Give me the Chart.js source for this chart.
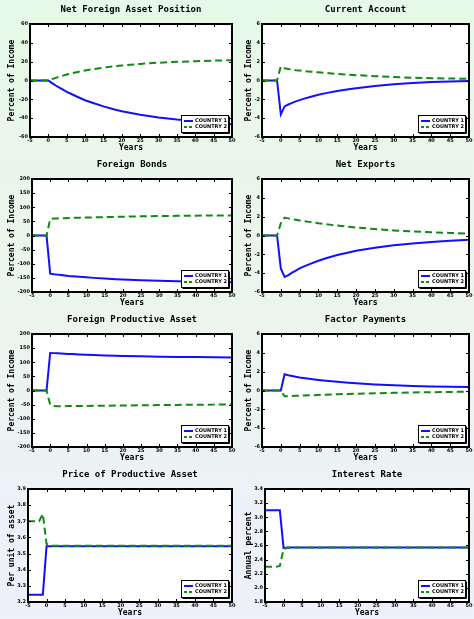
<!DOCTYPE html>
<html>

<head>
    <meta charset="UTF-8">
    <title>Transition paths</title>
    <style>
        html, body {
            margin: 0;
            padding: 0;
        }

        body {
            width: 474px;
            height: 619px;
            overflow: hidden;
            background: linear-gradient(to bottom, #e6f9e6 0%, #ebf5ee 50%, #eef0fb 100%);
            position: relative;
        }

        .panel {
            position: absolute;
            width: 237px;
            height: 155px;
        }
    </style>
</head>

<body>
    <canvas id="c0" class="panel" width="237" height="155" style="left:0;top:0"></canvas>
    <canvas id="c1" class="panel" width="237" height="155" style="left:237px;top:0"></canvas>
    <canvas id="c2" class="panel" width="237" height="155" style="left:0;top:155px"></canvas>
    <canvas id="c3" class="panel" width="237" height="155" style="left:237px;top:155px"></canvas>
    <canvas id="c4" class="panel" width="237" height="155" style="left:0;top:310px"></canvas>
    <canvas id="c5" class="panel" width="237" height="155" style="left:237px;top:310px"></canvas>
    <canvas id="c6" class="panel" width="237" height="155" style="left:0;top:465px"></canvas>
    <canvas id="c7" class="panel" width="237" height="155" style="left:237px;top:465px"></canvas>

    <script src="https://cdn.jsdelivr.net/npm/chart.js"></script>
    <script>
        // years after the shock (shared by every panel)
        const years = [-5, -4, -3, -2, -1, 0, 1, 2, 3, 4, 5, 6, 8, 10, 12, 15, 18, 20, 25, 30, 35, 40, 45, 50];

        const seriesLabels = ["COUNTRY 1", "COUNTRY 2"];

        // Net foreign asset position, percent of income
        const nfaCountry1 = [0, 0, 0, 0, 0, 0, -2.8, -5.3, -7.6, -9.8, -12, -13.8, -17.5, -21, -23.7, -27.5, -30.8, -32.7, -36.3, -39.3, -41.5, -43.2, -44.8, -46.5];
        const nfaCountry2 = [0, 0, 0, 0, 0, 0, 1.5, 2.8, 4, 5.2, 6.3, 7.3, 9.1, 10.6, 12, 13.7, 15.1, 15.9, 17.6, 18.9, 19.8, 20.5, 21.1, 21.5];

        // Current account
        const caCountry1 = [0, 0, 0, 0, 0, -3.6, -2.75, -2.55, -2.38, -2.22, -2.08, -1.95, -1.72, -1.52, -1.34, -1.12, -0.93, -0.82, -0.58, -0.4, -0.27, -0.17, -0.1, -0.05];
        const caCountry2 = [0, 0, 0, 0, 0, 1.5, 1.3, 1.22, 1.16, 1.1, 1.05, 1.0, 0.93, 0.87, 0.8, 0.7, 0.62, 0.57, 0.46, 0.37, 0.3, 0.25, 0.21, 0.18];

        // Foreign bonds
        const bondsCountry1 = [0, 0, 0, 0, 0, -135, -137, -138.5, -140, -141.5, -143, -144, -146, -148, -150, -152.5, -154.5, -156, -158.5, -160.5, -162, -163.5, -164.5, -165.5];
        const bondsCountry2 = [0, 0, 0, 0, 0, 58, 60, 60.5, 61, 61.5, 62, 62.3, 63, 63.7, 64.3, 65.2, 66, 66.5, 67.8, 68.8, 69.6, 70.2, 70.7, 71];

        // Net exports
        const nxCountry1 = [0, 0, 0, 0, 0, -3.5, -4.4, -4.2, -3.95, -3.72, -3.5, -3.3, -2.98, -2.68, -2.42, -2.08, -1.8, -1.63, -1.3, -1.04, -0.85, -0.7, -0.57, -0.46];
        const nxCountry2 = [0, 0, 0, 0, 0, 1.3, 1.9, 1.82, 1.74, 1.67, 1.6, 1.53, 1.42, 1.3, 1.2, 1.05, 0.93, 0.85, 0.68, 0.54, 0.43, 0.34, 0.27, 0.2];

        // Foreign productive asset
        const fpaCountry1 = [0, 0, 0, 0, 0, 133, 132.3, 131.6, 131, 130.3, 129.6, 129, 127.8, 126.6, 125.6, 124.3, 123.2, 122.5, 121, 119.8, 118.9, 118.2, 117.6, 117];
        const fpaCountry2 = [0, 0, 0, 0, 0, -50, -55, -55.5, -55.5, -55.4, -55.3, -55.2, -54.9, -54.5, -54.2, -53.8, -53.3, -53, -52.3, -51.6, -51, -50.5, -50, -49.5];

        // Factor payments
        const fpCountry1 = [0, 0, 0, 0, 0, 0, 1.72, 1.62, 1.54, 1.46, 1.39, 1.33, 1.22, 1.12, 1.03, 0.92, 0.82, 0.76, 0.64, 0.55, 0.48, 0.43, 0.39, 0.36];
        const fpCountry2 = [0, 0, 0, 0, 0, 0, -0.62, -0.6, -0.59, -0.57, -0.55, -0.54, -0.51, -0.47, -0.44, -0.4, -0.36, -0.34, -0.29, -0.25, -0.21, -0.18, -0.15, -0.13];

        // Price of productive asset, per unit
        const priceCountry1 = [3.245, 3.245, 3.245, 3.245, 3.245, 3.545, 3.545, 3.545, 3.545, 3.545, 3.545, 3.545, 3.545, 3.545, 3.545, 3.545, 3.545, 3.545, 3.545, 3.545, 3.545, 3.545, 3.545, 3.545];
        const priceCountry2 = [3.7, 3.7, 3.7, 3.7, 3.745, 3.56, 3.55, 3.548, 3.548, 3.548, 3.548, 3.548, 3.548, 3.548, 3.548, 3.548, 3.548, 3.548, 3.548, 3.548, 3.548, 3.548, 3.548, 3.548];

        // Interest rate, annual percent
        const rateCountry1 = [3.1, 3.1, 3.1, 3.1, 3.1, 2.565, 2.57, 2.57, 2.57, 2.57, 2.57, 2.57, 2.57, 2.57, 2.57, 2.57, 2.57, 2.57, 2.57, 2.57, 2.57, 2.57, 2.57, 2.57];
        const rateCountry2 = [2.3, 2.3, 2.3, 2.3, 2.31, 2.55, 2.565, 2.57, 2.57, 2.57, 2.57, 2.57, 2.57, 2.57, 2.57, 2.57, 2.57, 2.57, 2.57, 2.57, 2.57, 2.57, 2.57, 2.57];

        const panels = [
            { title: "Net Foreign Asset Position", yLabel: "Percent of Income", min: -60, max: 60, step: 20, left: 30, c1: nfaCountry1, c2: nfaCountry2 },
            { title: "Current Account", yLabel: "Percent of Income", min: -6, max: 6, step: 2, left: 25, c1: caCountry1, c2: caCountry2 },
            { title: "Foreign Bonds", yLabel: "Percent of Income", min: -200, max: 200, step: 50, left: 32, c1: bondsCountry1, c2: bondsCountry2 },
            { title: "Net Exports", yLabel: "Percent of Income", min: -6, max: 6, step: 2, left: 25, c1: nxCountry1, c2: nxCountry2 },
            { title: "Foreign Productive Asset", yLabel: "Percent of Income", min: -200, max: 200, step: 50, left: 32, c1: fpaCountry1, c2: fpaCountry2 },
            { title: "Factor Payments", yLabel: "Percent of Income", min: -6, max: 6, step: 2, left: 25, c1: fpCountry1, c2: fpCountry2 },
            { title: "Price of Productive Asset", yLabel: "Per unit of asset", min: 3.2, max: 3.9, step: 0.1, left: 28, c1: priceCountry1, c2: priceCountry2 },
            { title: "Interest Rate", yLabel: "Annual percent", min: 1.8, max: 3.4, step: 0.2, left: 28, c1: rateCountry1, c2: rateCountry2 },
        ];

        const BLUE = "#1010ff";
        const GREEN = "#108a10";
        const MONO = "'DejaVu Sans Mono', monospace";
        const SANS = "'DejaVu Sans', sans-serif";

        // white plot box, title over the plot, thick frame, inward ticks and the small legend in the corner
        const framePlugin = {
            id: "frame",
            beforeDraw(chart) {
                const a = chart.chartArea;
                const ctx = chart.ctx;
                ctx.save();
                ctx.fillStyle = "#ffffff";
                ctx.fillRect(a.left, a.top, a.right - a.left, a.bottom - a.top);
                ctx.font = "bold 9px " + MONO;
                ctx.fillStyle = "#000";
                ctx.textAlign = "center";
                ctx.textBaseline = "middle";
                ctx.fillText(chart.options.plugins.frame.title, (a.left + a.right) / 2, 10);
                ctx.restore();
            },
            afterDraw(chart) {
                const a = chart.chartArea;
                const ctx = chart.ctx;
                ctx.save();
                ctx.strokeStyle = "#000";
                ctx.lineWidth = 2;
                ctx.strokeRect(a.left, a.top, a.right - a.left, a.bottom - a.top);

                ctx.lineWidth = 1;
                ctx.beginPath();
                chart.scales.x.ticks.forEach(t => {
                    const px = Math.round(chart.scales.x.getPixelForValue(t.value)) + 0.5;
                    ctx.moveTo(px, a.top); ctx.lineTo(px, a.top + 3);
                    ctx.moveTo(px, a.bottom); ctx.lineTo(px, a.bottom - 3);
                });
                chart.scales.y.ticks.forEach(t => {
                    const py = Math.round(chart.scales.y.getPixelForValue(t.value)) + 0.5;
                    ctx.moveTo(a.left, py); ctx.lineTo(a.left + 3, py);
                    ctx.moveTo(a.right, py); ctx.lineTo(a.right - 3, py);
                });
                ctx.stroke();

                // legend box
                const bx = a.right - 51, by = a.bottom - 22, bw = 47, bh = 17;
                ctx.fillStyle = "#fff";
                ctx.fillRect(bx, by, bw, bh);
                ctx.strokeStyle = "#000";
                ctx.lineWidth = 1;
                ctx.strokeRect(bx + 0.5, by + 0.5, bw, bh);
                ctx.beginPath();
                ctx.moveTo(bx + 1.5, by + bh + 1.5); ctx.lineTo(bx + bw + 1.5, by + bh + 1.5); ctx.lineTo(bx + bw + 1.5, by + 1.5);
                ctx.stroke();

                ctx.font = "bold 5px " + SANS;
                ctx.textBaseline = "middle";
                ctx.fillStyle = "#000";
                const rows = [
                    { y: by + 6, color: BLUE, dash: [] },
                    { y: by + 12, color: GREEN, dash: [3, 2] },
                ];
                rows.forEach((r, i) => {
                    ctx.strokeStyle = r.color;
                    ctx.lineWidth = 2;
                    ctx.setLineDash(r.dash);
                    ctx.beginPath();
                    ctx.moveTo(bx + 3, r.y); ctx.lineTo(bx + 12, r.y);
                    ctx.stroke();
                    ctx.setLineDash([]);
                    ctx.fillText(seriesLabels[i], bx + 14, r.y);
                });
                ctx.restore();
            }
        };

        panels.forEach((p, idx) => {
            const ctx = document.querySelector("#c" + idx).getContext("2d");
            new Chart(ctx, {
                type: "line",
                data: {
                    datasets: [{
                        label: seriesLabels[0],
                        data: years.map((x, i) => ({ x: x, y: p.c1[i] })),
                        borderColor: BLUE,
                        borderWidth: 2,
                        pointRadius: 0,
                        tension: 0,
                        order: 1,
                    }, {
                        label: seriesLabels[1],
                        data: years.map((x, i) => ({ x: x, y: p.c2[i] })),
                        borderColor: GREEN,
                        borderWidth: 2,
                        borderDash: [7, 4],
                        pointRadius: 0,
                        tension: 0,
                        order: 0,
                    }],
                },
                options: {
                    responsive: false,
                    animation: false,
                    devicePixelRatio: 1,
                    layout: { padding: { left: 0, right: 5, top: 24, bottom: 0 } },
                    plugins: {
                        legend: { display: false },
                        tooltip: { enabled: false },
                        title: { display: false },
                        frame: { title: p.title },
                    },
                    scales: {
                        x: {
                            type: "linear",
                            min: -5,
                            max: 50,
                            grid: { display: false, drawTicks: false },
                            border: { display: false },
                            ticks: { stepSize: 5, color: "#000", padding: 1, font: { family: SANS, size: 5, weight: "bold" }, maxRotation: 0 },
                            title: { display: true, text: "Years", color: "#000", font: { family: MONO, size: 8, weight: "bold" }, padding: { top: 0, bottom: 2 } },
                            afterFit(scale) { scale.height = 18; },
                        },
                        y: {
                            min: p.min,
                            max: p.max,
                            grid: { display: false, drawTicks: false },
                            border: { display: false },
                            ticks: { stepSize: p.step, color: "#000", padding: 2, font: { family: SANS, size: 5, weight: "bold" } },
                            title: { display: true, text: p.yLabel, color: "#000", font: { family: MONO, size: 8, weight: "bold" }, padding: { top: 7, bottom: 0 } },
                            afterFit(scale) { scale.width = p.left; },
                        },
                    },
                },
                plugins: [framePlugin],
            });
        });
    </script>
</body>

</html>
